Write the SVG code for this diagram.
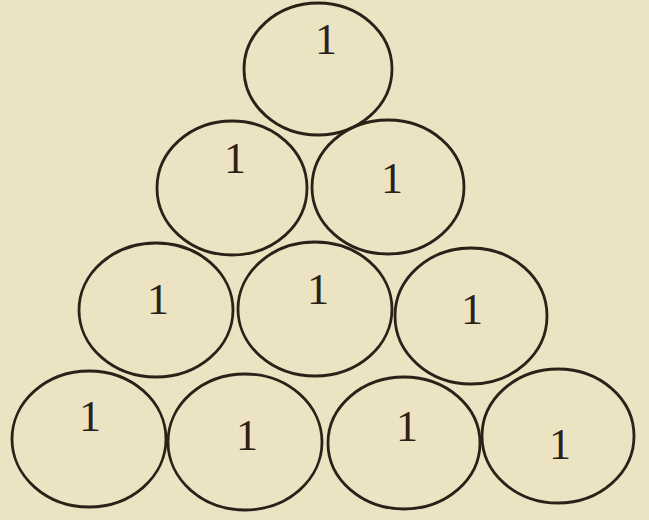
<svg xmlns="http://www.w3.org/2000/svg" width="649" height="520" viewBox="0 0 649 520">
<style>
.c{fill:none;stroke:#2a2118;stroke-width:2.8}
.t{font-family:"Liberation Serif","DejaVu Serif",serif;font-size:44px;fill:#2a2118;text-anchor:middle}
</style>
<rect x="0" y="0" width="649" height="520" fill="#ece3c2"/>
<g id="n1"><ellipse class="c" cx="318" cy="69" rx="74" ry="66"/><text class="t" x="326" y="54">1</text></g>
<g id="n2"><ellipse class="c" cx="232" cy="188" rx="75" ry="67"/><text class="t" x="235" y="173">1</text></g>
<g id="n3"><ellipse class="c" cx="388" cy="187" rx="76" ry="67"/><text class="t" x="392" y="193">1</text></g>
<g id="n4"><ellipse class="c" cx="156" cy="310" rx="77" ry="67"/><text class="t" x="158" y="314">1</text></g>
<g id="n5"><ellipse class="c" cx="315" cy="309" rx="77" ry="67"/><text class="t" x="318" y="304">1</text></g>
<g id="n6"><ellipse class="c" cx="471" cy="316" rx="76" ry="68"/><text class="t" x="472" y="324">1</text></g>
<g id="n7"><ellipse class="c" cx="89" cy="439" rx="77" ry="68"/><text class="t" x="90" y="431">1</text></g>
<g id="n8"><ellipse class="c" cx="245" cy="442" rx="77" ry="68"/><text class="t" x="247" y="450">1</text></g>
<g id="n9"><ellipse class="c" cx="404" cy="443" rx="76" ry="66"/><text class="t" x="407" y="441">1</text></g>
<g id="n10"><ellipse class="c" cx="558" cy="436" rx="76" ry="67"/><text class="t" x="560" y="459">1</text></g>
<g id="connectors"></g>
</svg>
